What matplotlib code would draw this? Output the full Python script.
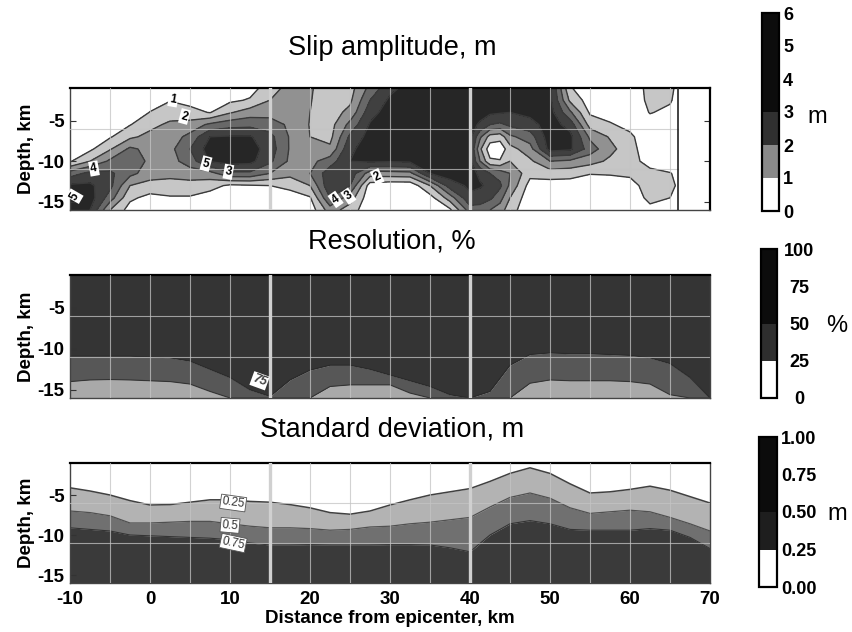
import numpy as np
import matplotlib
matplotlib.use('Agg')
import matplotlib.pyplot as plt
from matplotlib.colors import ListedColormap, BoundaryNorm
from matplotlib.cm import ScalarMappable

plt.rcParams['font.family'] = ['Liberation Sans', 'DejaVu Sans']
plt.rcParams['axes.unicode_minus'] = False

# ---------------- data ----------------
# Slip amplitude (m) on fault grid: columns = distance (km), rows = depth (km)
slip_x = [-10, -7.5, -5, -2.5, 0, 2.5, 5, 7.5, 10, 12.5, 15, 17.5, 20, 22.5, 25, 27.5,
          30, 32.5, 35, 37.5, 40, 41.25, 42.5, 43.75, 45, 47.5, 50, 52.5, 55, 57.5, 60,
          62.5, 65, 66]
slip_depth = [-1, -2.5, -4, -5.5, -7, -8.5, -10, -11.5, -13, -14.5, -16]
slip_cols = [
    [0, 0, 0, 0, 0, 0.2, 0.9, 3.5, 5.2, 5.6, 5.5],          # -10
    [0, 0, 0, 0, 0, 0.8, 2.0, 4.3, 5.2, 5.5, 5.0],          # -7.5
    [0, 0, 0, 0, 0.9, 1.9, 3.2, 4.2, 4.3, 3.5, 2.0],        # -5
    [0, 0, 0, 0.95, 1.8, 3.2, 3.6, 3.3, 2.0, 1.2, 0.6],     # -2.5
    [0, 0.3, 1.05, 1.7, 2.3, 2.7, 2.8, 2.5, 1.6, 0.7, 0.3], # 0
    [0.4, 0.95, 1.5, 2.2, 2.5, 2.7, 2.6, 2.3, 1.6, 0.9, 0.3],  # 2.5
    [0.3, 0.7, 1.3, 2.4, 3.3, 4.0, 3.5, 2.5, 1.6, 0.9, 0.3],   # 5
    [0.3, 0.6, 0.95, 3.2, 5.0, 5.5, 5.1, 2.6, 1.4, 0.5, 0.2],  # 7.5
    [0.4, 0.8, 1.9, 3.6, 5.1, 5.6, 5.4, 3.8, 0.8, 0.2, 0.1],   # 10
    [0.6, 1.1, 2.5, 3.7, 5.1, 5.5, 5.3, 3.8, 0.9, 0.2, 0.1],   # 12.5
    [1.5, 2.0, 2.6, 3.5, 4.3, 4.5, 4.2, 3.0, 1.0, 0.3, 0.1],   # 15
    [2.4, 2.5, 2.6, 2.8, 2.9, 2.9, 2.8, 2.3, 1.3, 0.5, 0.1],   # 17.5
    [2.1, 2.05, 2.0, 1.95, 2.0, 2.4, 2.7, 3.0, 2.0, 0.9, 0.4], # 20
    [1.5, 1.5, 1.5, 1.6, 1.7, 2.2, 3.5, 4.6, 4.8, 4.0, 2.5],   # 22.5
    [1.6, 1.8, 2.3, 3.3, 4.2, 4.8, 5.0, 4.6, 4.0, 2.5, 1.5],   # 25
    [3.3, 4.0, 4.6, 5.1, 5.4, 5.5, 5.2, 2.5, 0.5, 0.3, 0.3],   # 27.5
    [4.7, 5.2, 5.5, 5.6, 5.6, 5.6, 5.1, 2.6, 0.3, 0.2, 0.2],   # 30
    [5.4, 5.6, 5.7, 5.7, 5.7, 5.6, 5.2, 2.7, 0.3, 0.2, 0.2],   # 32.5
    [5.5, 5.6, 5.6, 5.6, 5.6, 5.6, 5.5, 5.0, 2.0, 0.6, 0.3],   # 35
    [5.6, 5.6, 5.6, 5.6, 5.6, 5.6, 5.6, 5.5, 4.5, 2.5, 0.8],   # 37.5
    [5.6, 5.6, 5.6, 5.5, 5.3, 5.1, 5.2, 5.4, 5.2, 4.8, 3.5],   # 40
    [5.6, 5.6, 5.5, 4.8, 3.2, 2.2, 3.0, 4.8, 5.1, 4.6, 3.5],   # 41.25
    [5.6, 5.5, 5.2, 4.0, 1.6, 0.4, 1.2, 4.0, 4.8, 4.2, 3.0],   # 42.5
    [5.6, 5.5, 5.1, 3.8, 1.4, 0.3, 1.1, 3.6, 4.2, 3.4, 2.5],   # 43.75
    [5.5, 5.4, 5.0, 4.2, 2.8, 1.6, 2.0, 3.0, 2.8, 2.0, 1.4],   # 45
    [5.5, 5.5, 5.3, 4.6, 3.5, 2.6, 1.8, 1.3, 0.6, 0.3, 0.3],   # 47.5
    [5.2, 5.3, 5.4, 5.5, 5.6, 5.4, 3.0, 1.5, 0.5, 0.2, 0.2],   # 50
    [1.1, 1.8, 3.2, 4.6, 5.3, 5.2, 2.8, 1.4, 0.5, 0.2, 0.2],   # 52.5
    [0.3, 0.5, 0.85, 1.6, 2.8, 3.5, 2.4, 1.05, 0.4, 0.2, 0.2], # 55
    [0.2, 0.3, 0.6, 1.1, 1.9, 2.3, 1.8, 1.1, 0.4, 0.2, 0.2],   # 57.5
    [0.2, 0.2, 0.3, 0.7, 1.2, 1.4, 1.4, 1.2, 0.6, 0.3, 0.2],   # 60
    [1.4, 1.3, 1.05, 0.6, 0.3, 0.3, 0.6, 1.3, 1.5, 1.3, 0.7],  # 62.5
    [1.2, 1.1, 0.8, 0.4, 0.2, 0.2, 0.4, 1.05, 1.2, 1.0, 0.4],  # 65
    [0.8, 0.7, 0.5, 0.3, 0.2, 0.2, 0.3, 0.8, 0.9, 0.7, 0.3],   # 66
]
slip_levels = [0, 1, 2, 3, 4, 5, 6]

# Resolution (%) : depth of the 75% and 50% contours along strike
res_x = [-10, -7.5, -5, -2.5, 0, 2.5, 5, 7.5, 10, 12.5, 15, 17.5, 20, 22.5, 25, 27.5,
         30, 32.5, 35, 37.5, 40, 42.5, 45, 47.5, 50, 52.5, 55, 57.5, 60, 62.5, 65, 67.5, 70]
res_d75 = [-10.9, -10.9, -10.9, -10.9, -11.0, -11.1, -11.5, -12.5, -13.5, -15.0, -15.8,
           -13.8, -12.6, -12.0, -12.0, -12.5, -13.2, -13.9, -14.6, -15.6, -16.0, -15.2,
           -12.0, -10.7, -10.5, -10.6, -10.6, -10.7, -10.8, -11.1, -11.8, -13.5, -16.0]
res_d50 = [-14.0, -13.8, -13.75, -13.8, -13.9, -14.0, -14.3, -15.2, -16.0, -16.0, -16.0,
           -16.0, -16.0, -14.6, -14.4, -14.4, -14.4, -15.4, -16.0, -16.0, -16.0, -16.0,
           -16.0, -14.2, -13.8, -13.9, -13.9, -13.9, -14.0, -14.3, -15.6, -16.0, -16.0]

# Standard deviation (m): depth of the 0.25, 0.5, 0.75 contours along strike
sd_x = res_x
sd_d25 = [-4.1, -4.5, -5.0, -5.7, -6.25, -6.2, -5.9, -5.6, -5.6, -5.8, -5.9, -6.2, -6.6,
          -7.2, -7.4, -7.0, -6.25, -5.6, -5.0, -4.6, -4.2, -3.3, -2.3, -1.6, -2.3, -3.6,
          -4.75, -4.6, -4.3, -3.9, -4.4, -5.2, -6.0]
sd_d50 = [-7.0, -7.2, -7.6, -8.5, -8.5, -8.4, -8.3, -8.3, -8.6, -8.9, -9.1, -9.1, -9.2,
          -9.4, -9.3, -9.0, -8.9, -8.6, -8.4, -8.1, -7.8, -6.5, -5.3, -4.75, -5.4, -6.6,
          -7.3, -7.1, -6.9, -7.1, -7.8, -8.6, -9.5]
sd_d75 = [-9.1, -9.3, -9.5, -10.0, -10.1, -10.2, -10.3, -10.4, -10.6, -11.0, -11.25,
          -11.25, -11.2, -11.25, -11.25, -11.25, -11.2, -11.2, -11.25, -11.6, -12.1, -10.0,
          -8.6, -8.2, -8.6, -9.3, -9.4, -9.4, -9.4, -9.2, -9.4, -10.3, -11.7]

titles = ['Slip amplitude, m', 'Resolution, %', 'Standard deviation, m']
x_ticks = [-10, 0, 10, 20, 30, 40, 50, 60, 70]
y_ticks = [-5, -10, -15]
segment_bounds = [15, 40]

# ---------------- styling ----------------
W, H = 852, 632
fig = plt.figure(figsize=(W / 100, H / 100), dpi=100)

def fx(px):
    return px / W

def fy(py):
    return 1 - py / H

L, R = 70, 710
ax1 = fig.add_axes([fx(L), fy(210), fx(R - L), 122 / H])
ax2 = fig.add_axes([fx(L), fy(398), fx(R - L), 123 / H])
ax3 = fig.add_axes([fx(L), fy(583), fx(R - L), 120 / H])

slip_colors = ['white', '#c6c6c6', '#919191', '#686868', '#404040', '#262626']
line_col = '#3a3a3a'

# --- slip panel
Z = np.array(slip_cols).T
ax1.contourf(slip_x, slip_depth, Z, levels=slip_levels, colors=slip_colors)
ax1.contour(slip_x, slip_depth, Z, levels=slip_levels[1:-1], colors=line_col, linewidths=1.0)
ax1.axvline(slip_x[-1], color='#222222', lw=1.2, zorder=5)

lab_kw = dict(fontsize=8.5, fontweight='bold', ha='center', va='center', zorder=8,
              bbox=dict(boxstyle='square,pad=0.12', fc='white', ec='none'))
ax1.text(2.9, -2.4, '1', rotation=-10, **lab_kw)
ax1.text(4.3, -4.5, '2', rotation=-15, **lab_kw)
ax1.text(-7.0, -10.9, '4', rotation=10, **lab_kw)
ax1.text(-9.4, -14.3, '5', rotation=60, **lab_kw)
ax1.text(7.0, -10.3, '5', rotation=-15, **lab_kw)
ax1.text(9.8, -11.3, '3', rotation=-10, **lab_kw)
ax1.text(23.2, -14.7, '4', rotation=35, **lab_kw)
ax1.text(24.8, -14.3, '3', rotation=35, **lab_kw)
ax1.text(28.4, -11.9, '2', rotation=25, **lab_kw)

# --- resolution panel
top = -1
bot = -16
ax2.fill_between(res_x, top, res_d75, color='#343434', lw=0)
ax2.fill_between(res_x, res_d75, res_d50, color='#575757', lw=0)
ax2.fill_between(res_x, res_d50, bot, color='#a9a9a9', lw=0)
ax2.plot(res_x, res_d75, color='#2a2a2a', lw=0.8)
ax2.plot(res_x, res_d50, color='#333333', lw=0.8)
ax2.text(13.7, -13.9, '75', rotation=-20, fontsize=9, fontweight='bold', style='italic',
         color='#444444', ha='center', va='center', zorder=8,
         bbox=dict(boxstyle='square,pad=0.1', fc='white', ec='none'))

# --- standard deviation panel
ax3.fill_between(sd_x, sd_d25, sd_d50, color='#b3b3b3', lw=0)
ax3.fill_between(sd_x, sd_d50, sd_d75, color='#707070', lw=0)
ax3.fill_between(sd_x, sd_d75, bot, color='#3a3a3a', lw=0)
ax3.plot(sd_x, sd_d25, color='#404040', lw=1.1)
ax3.plot(sd_x, sd_d50, color='#505050', lw=0.9)
ax3.plot(sd_x, sd_d75, color='#333333', lw=0.8)
sd_kw = dict(fontsize=8.5, ha='center', va='center', zorder=8, color='#333333',
             bbox=dict(boxstyle='square,pad=0.1', fc='white', ec='#555555', lw=0.6))
ax3.text(10.4, -6.0, '0.25', rotation=-8, **sd_kw)
ax3.text(10.0, -8.8, '0.5', rotation=-5, **sd_kw)
ax3.text(10.4, -11.0, '0.75', rotation=-12, **sd_kw)

# --- common axes styling
for i, ax in enumerate((ax1, ax2, ax3)):
    ax.set_xlim(-10, 70)
    ax.set_ylim(bot, top)
    xmax_grid = 66 if i == 0 else 70
    for gx in np.arange(-5, xmax_grid, 5):
        if gx in segment_bounds:
            continue
        ax.plot([gx, gx], [bot, top], color='#c4c4c4', lw=0.8, alpha=0.75, zorder=4)
    for gy in (-6, -11):
        ax.plot([-10, xmax_grid], [gy, gy], color='#c4c4c4', lw=0.8, alpha=0.75, zorder=4)
    for sb in segment_bounds:
        ax.axvline(sb, color='#d0d0d0', lw=2.4, zorder=6)
    ax.set_yticks(y_ticks)
    ax.set_yticklabels([str(v) for v in y_ticks], fontsize=13.5, fontweight='bold')
    ax.set_ylabel('Depth, km', fontsize=13.5, fontweight='bold', labelpad=2)
    ax.tick_params(axis='y', direction='in', length=4, pad=4, color='#333333')
    for s in ax.spines.values():
        s.set_color('#444444')
        s.set_linewidth(1.0)
    ax.spines['top'].set_color('black')
    ax.spines['top'].set_linewidth(1.6)
    if i < 2:
        ax.set_xticks([])
    else:
        ax.set_xticks(x_ticks)
        ax.set_xticklabels([str(v) for v in x_ticks], fontsize=13.5, fontweight='bold')
        ax.tick_params(axis='x', direction='in', length=0, pad=6)
        ax.set_xlabel('Distance from epicenter, km', fontsize=13.5, fontweight='bold', labelpad=1)

ax1.tick_params(axis='y', right=True)
ax1.spines['right'].set_color('black')
ax1.spines['right'].set_linewidth(1.6)

# titles
fig.text(fx(392), fy(48), titles[0], fontsize=19.5, ha='center', va='center')
fig.text(fx(392), fy(242), titles[1], fontsize=19.5, ha='center', va='center')
fig.text(fx(392), fy(430), titles[2], fontsize=19.5, ha='center', va='center')

# --- colourbars
def colorbar(rect, bounds, colors, ticks, labels, unit, unit_xy, center=False):
    cax = fig.add_axes(rect)
    sm = ScalarMappable(norm=BoundaryNorm(bounds, len(colors)), cmap=ListedColormap(colors))
    cb = fig.colorbar(sm, cax=cax, ticks=ticks)
    cb.outline.set_linewidth(1.6)
    cb.outline.set_edgecolor('black')
    cax.set_yticklabels(labels, fontsize=13, fontweight='bold')
    if center:
        cax.tick_params(length=0, pad=16)
        for t in cax.get_yticklabels():
            t.set_ha('center')
    else:
        cax.tick_params(length=0, pad=3)
    fig.text(fx(unit_xy[0]), fy(unit_xy[1]), unit, fontsize=17, ha='center', va='center')
    return cb

colorbar([fx(762), fy(211), fx(17), 198 / H], [0, 1, 2, 3, 4, 5, 6],
         ['white', '#8a8a8a', '#303030', '#0c0c0c', '#0c0c0c', '#0c0c0c'],
         [0, 1, 2, 3, 4, 5, 6], ['0', '1', '2', '3', '4', '5', '6'], 'm', (817, 117))
colorbar([fx(761), fy(398), fx(16), 149 / H], [0, 25, 50, 75, 100],
         ['white', '#2e2e2e', '#0c0c0c', '#0c0c0c'],
         [0, 25, 50, 75, 100], ['0', '25', '50', '75', '100'], '%', (837, 326), center=True)
colorbar([fx(759), fy(587), fx(18), 150 / H], [0, 0.25, 0.5, 0.75, 1.0],
         ['white', '#1e1e1e', '#0c0c0c', '#0c0c0c'],
         [0, 0.25, 0.5, 0.75, 1.0], ['0.00', '0.25', '0.50', '0.75', '1.00'], 'm', (837, 514))

fig.savefig('out.png', dpi=100)
